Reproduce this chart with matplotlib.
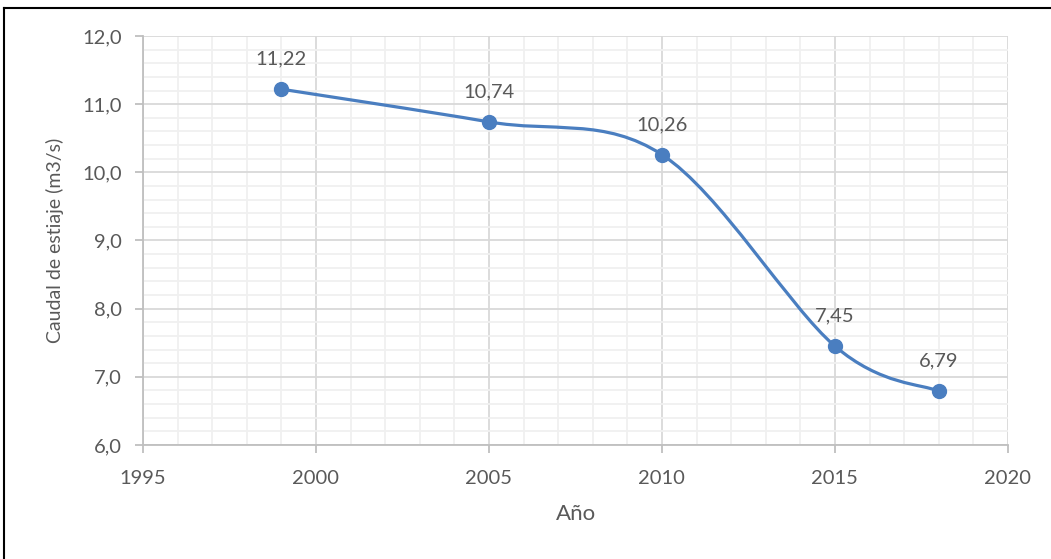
import matplotlib.pyplot as plt
from matplotlib.lines import Line2D
from matplotlib.path import Path
from matplotlib.patches import PathPatch
from matplotlib.ticker import MultipleLocator, FuncFormatter

# ------------------------------------------------------------------------------------

anios = [1999, 2005, 2010, 2015, 2018]
caudal = [11.22, 10.74, 10.26, 7.45, 6.79]
etiquetas = ["11,22", "10,74", "10,26", "7,45", "6,79"]

color_linea = "#4A7EC0"
color_texto = "#595959"

plt.rcParams["font.family"] = ["Lato", "DejaVu Sans"]

# ------------------------------------------------------------------------------------

fig = plt.figure(figsize=(10.51, 5.59), dpi=100)
ax = fig.add_axes([0.136, 0.204, 0.823, 0.7316])

# curva suavizada estilo Excel (Bezier con puntos de control 1/6)
verts = [(anios[0], caudal[0])]
codes = [Path.MOVETO]
n = len(anios)
for i in range(n - 1):
    x0, y0 = anios[max(i - 1, 0)], caudal[max(i - 1, 0)]
    x1, y1 = anios[i], caudal[i]
    x2, y2 = anios[i + 1], caudal[i + 1]
    x3, y3 = anios[min(i + 2, n - 1)], caudal[min(i + 2, n - 1)]
    c1 = (x1 + (x2 - x0) / 6, y1 + (y2 - y0) / 6)
    c2 = (x2 - (x3 - x1) / 6, y2 - (y3 - y1) / 6)
    verts += [c1, c2, (x2, y2)]
    codes += [Path.CURVE4, Path.CURVE4, Path.CURVE4]
ax.add_patch(PathPatch(Path(verts, codes), facecolor="none", edgecolor=color_linea,
                       linewidth=2.3, capstyle="round", zorder=3))
ax.plot(anios, caudal, linestyle="none", marker="o", markersize=10,
        color=color_linea, zorder=4)

for x, y, t in zip(anios, caudal, etiquetas):
    ax.annotate(t, (x, y), xytext=(0, 21.5), textcoords="offset points",
                ha="center", va="center", fontsize=14.5, color=color_texto)

ax.set_xlim(1995, 2020)
ax.set_ylim(6.0, 12.0)
ax.xaxis.set_major_locator(MultipleLocator(5))
ax.xaxis.set_minor_locator(MultipleLocator(1))
ax.yaxis.set_major_locator(MultipleLocator(1))
ax.yaxis.set_minor_locator(MultipleLocator(0.2))
ax.yaxis.set_major_formatter(FuncFormatter(lambda v, p: ("%.1f" % v).replace(".", ",")))

ax.grid(which="major", color="#D9D9D9", linewidth=1.3)
ax.grid(which="minor", color="#F0F0F0", linewidth=1.3)
ax.set_axisbelow(True)

for lado in ["top", "right"]:
    ax.spines[lado].set_visible(False)
for lado in ["left", "bottom"]:
    ax.spines[lado].set_color("#BFBFBF")
    ax.spines[lado].set_linewidth(1.3)

ax.tick_params(which="major", direction="out", length=6, width=1.3, color="#BFBFBF",
               labelsize=14.5, labelcolor=color_texto)
ax.tick_params(axis="x", which="major", pad=12)
ax.tick_params(axis="y", which="major", pad=9)
ax.tick_params(which="minor", length=0)

ax.set_xlabel("Año", fontsize=16, color=color_texto, va="center")
ax.xaxis.set_label_coords(0.5006, -0.1687)
ax.set_ylabel("Caudal de estiaje (m3/s)", fontsize=14, color=color_texto, va="center")
ax.yaxis.set_label_coords(-0.1017, 0.5)

# marco exterior (solo arriba e izquierda)
fig.add_artist(Line2D([4 / 1051, 4 / 1051], [0, 1 - 8 / 559], color="black", linewidth=1.5,
                      transform=fig.transFigure))
fig.add_artist(Line2D([4 / 1051, 1], [1 - 8 / 559, 1 - 8 / 559], color="black", linewidth=1.5,
                      transform=fig.transFigure))

fig.savefig("out.png", dpi=100)
